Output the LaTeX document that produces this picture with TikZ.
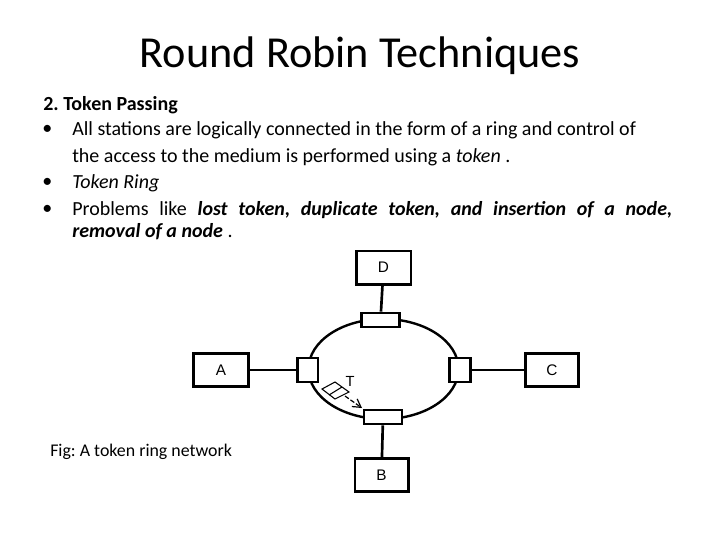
\documentclass[tikz,border=0pt]{standalone}
\usepackage{fontspec}
\usepackage{amsmath}
\usepackage{xcolor}
\setmainfont{Carlito}
\setsansfont{Liberation Sans}
\frenchspacing
\usetikzlibrary{shapes.geometric,arrows.meta}
\tikzset{
  stationbox/.style={draw,line width=2pt,fill=white,inner sep=0pt,font=\sffamily\fontsize{11.5}{11.5}\selectfont},
  portbox/.style={draw,line width=2pt,fill=white,inner sep=0pt},
  bodytext/.style={anchor=west,inner sep=0pt,font=\fontsize{15}{15}\selectfont},
}
\begin{document}
\begin{tikzpicture}[x=0.75pt,y=0.75pt,yscale=-1,xscale=1]
\useasboundingbox (0,0) rectangle (720,540);
% Ring
\draw [line width=1.8pt]  (383.5,369) ellipse (75 and 50);
% Ports
\draw (380.5,320) node [portbox,minimum width=28.5pt,minimum height=10.5pt] (portD) {};
\draw (307.5,370) node [portbox,minimum width=15.5pt,minimum height=18pt] (portA) {};
\draw (460,370) node [portbox,minimum width=15.5pt,minimum height=18pt] (portC) {};
\draw (383,417) node [portbox,minimum width=28.5pt,minimum height=10.5pt] (portB) {};
% Stations
\draw (383.5,267.5) node [stationbox,minimum width=41pt,minimum height=25pt] (stationD) {D};
\draw (221,370) node [stationbox,minimum width=41pt,minimum height=25pt] (stationA) {A};
\draw (552,370) node [stationbox,minimum width=40pt,minimum height=25pt] (stationC) {C};
\draw (381.5,475) node [stationbox,minimum width=40pt,minimum height=25pt] (stationB) {B};
% Connectors
\draw [line width=2pt]  (stationD) -- (portD);
\draw [line width=2pt]  (stationB) -- (portB);
\draw [line width=0.9pt]  (stationA) -- (portA);
\draw [line width=0.9pt]  (stationC) -- (portC);
% Token
\draw [line width=0.8pt]  (322,389) -- (335,382) -- (349,392) -- (335,399) -- cycle ;
\draw [line width=0.8pt]  (342,387) -- (329,395) ;
\coordinate (tokenStart) at (345,396);
\coordinate (tokenEnd) at (362,408);
\draw [line width=0.9pt,dash pattern={on 3.5pt off 1.5pt},-{Straight Barb[length=6pt,width=7pt]}]  (tokenStart) -- (tokenEnd) ;
\draw (350,381) node [inner sep=0pt,font=\sffamily\fontsize{11}{11}\selectfont] (tokenT) {T};
% Title
\draw (360,56) node [inner sep=0pt,font=\fontsize{33.2}{33.2}\selectfont] (title) {Round Robin Techniques};
% Text Node
\draw (43,105) node [bodytext] (heading) {\textbf{2. Token Passing}};
\draw (42,130) node [bodytext] (bulletOne) {•};
\draw (72,130) node [bodytext] (lineOne) {All stations are logically connected in the form of a ring and control of};
\draw (72,157) node [bodytext] (lineTwo) {the access to the medium is performed using a \textit{token} .};
\draw (42,183) node [bodytext] (bulletTwo) {•};
\draw (72,183) node [bodytext] (lineThree) {\textit{Token Ring}};
\draw (42,210) node [bodytext] (bulletThree) {•};
\draw (72,210) node [bodytext] (lineFour) {\makebox[450pt][s]{Problems like \textbf{\textit{lost token, duplicate token, and insertion of a node,}}}};
\draw (72,232) node [bodytext] (lineFive) {\textbf{\textit{removal of a node}} .};
\draw (50,452) node [anchor=west,inner sep=0pt,font=\fontsize{13.4}{13.4}\selectfont] (caption) {Fig: A token ring network};
\end{tikzpicture}
\end{document}
